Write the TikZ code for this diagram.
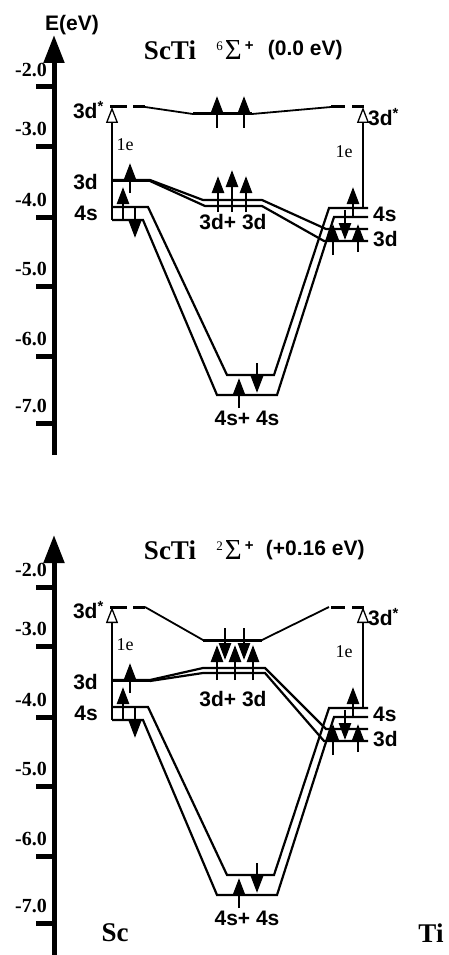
\documentclass[tikz,border=0pt]{standalone}
\usepackage{fontspec}
\setmainfont{Liberation Serif}
\setsansfont{Liberation Sans}
\usetikzlibrary{arrows.meta,positioning}
\newcommand{\stateterm}[1]{\raisebox{9pt}{\fontsize{13}{13}\selectfont #1}\hspace{2pt}{\fontsize{29}{29}\selectfont Σ}\hspace{3pt}\raisebox{9pt}{\fontsize{15}{15}\selectfont\sffamily\bfseries +}}

\begin{document}
\begin{tikzpicture}[x=1pt,y=-1pt, every node/.style={inner sep=0pt},
  axis/.style={line width=5pt,-{Triangle[length=28pt,width=20pt]}},
  axtick/.style={line width=5pt},
  val/.style={font=\fontsize{20}{20}\selectfont\bfseries,anchor=east},
  orb/.style={font=\fontsize{21}{21}\selectfont\sffamily\bfseries},
  level/.style={line width=3pt},
  band/.style={line width=2.2pt,line join=miter},
  corr/.style={line width=1.8pt},
  spin/.style={line width=2.6pt,-{Triangle[length=17pt,width=12pt]}},
  excite/.style={line width=1.3pt,-{Triangle[open,length=16pt,width=12pt]}},
  onee/.style={font=\fontsize{18}{18}\selectfont},
  title/.style={font=\fontsize{27}{27}\selectfont\bfseries},
  term/.style={font=\fontsize{26}{26}\selectfont},
  relen/.style={font=\fontsize{21}{21}\selectfont\sffamily\bfseries}]
\useasboundingbox (0,0) rectangle (448,955);

% parts shared by both states
\foreach \dy/\n in {0/a,500/b}{
\begin{scope}[shift={(0,\dy)}]
  \coordinate (bot\n) at (54,455); \coordinate (top\n) at (54,35);
  \draw[axis] (bot\n) -- (top\n);
  \foreach \t/\v in {87/-2.0,146/-3.0,217/-4.0,286/-5.0,356/-6.0,423/-7.0}
    {\draw[axtick] (36,\t) -- (54,\t); \node[val] (e\n\t) at (47,\t-17) {\v};}
  \draw[level] (110,107) -- (127,107) (133,107) -- (145,107);
  \draw[level] (331,107) -- (345,107) (352,107) -- (364,107);
  \node[orb,anchor=east] (scstar\n) at (104,110) {3d\textsuperscript{*}};
  \node[orb,anchor=west] (tistar\n) at (368,117) {3d\textsuperscript{*}};
  \node[orb,anchor=east] (sc3d\n) at (98,182) {3d};
  \node[orb,anchor=east] (sc4s\n) at (98,213) {4s};
  \node[orb,anchor=west] (ti4s\n) at (373,214) {4s};
  \node[orb,anchor=west] (ti3d\n) at (373,239) {3d};
  \draw[band] (112,207) -- (148,207) -- (227,375) -- (274,375) -- (329,208) -- (368,208);
  \draw[band] (112,220) -- (143,220) -- (217,395) -- (277,395) -- (334,217) -- (368,217);
  \draw[excite] (112,220) -- (112,107);
  \draw[excite] (363,208) -- (363,107);
  \node[onee] (sce\n) at (125,145) {1e};
  \node[onee] (tie\n) at (344,152) {1e};
  \node[orb] (ss\n) at (247,418) {4s+ 4s};
  \draw[spin] (130,193) -- (130,163);
  \draw[spin] (123,220) -- (123,187);
  \draw[spin] (135,208) -- (135,238);
  \draw[spin] (239,408) -- (239,378);
  \draw[spin] (257,363) -- (257,393);
  \draw[spin] (353,218) -- (353,187);
  \draw[spin] (333,255) -- (333,224);
  \draw[spin] (345,210) -- (345,240);
  \draw[spin] (358,252) -- (358,224);
\end{scope}}

% sextet
\node[orb] (ev) at (72,25) {E(eV)};
\node[title] (t1) at (170,50) {ScTi};
\node[term,right=20pt of t1] (s1) {\stateterm{6}};
\node[relen,right=14pt of s1] (d1) {(0.0 eV)};
\draw[band] (112,180) -- (150,180) -- (203,200) -- (262,200) -- (326,229) -- (368,229);
\draw[band] (150,181) -- (205,206) -- (262,206) -- (324,241) -- (368,241);
\draw[level] (112,180) -- (150,180);
\draw[corr] (145,107) -- (193,114) -- (252,114) -- (331,107);
\draw[level] (193,114) -- (252,114);
\draw[spin] (217,128) -- (217,96);
\draw[spin] (244,128) -- (244,96);
\draw[spin] (218,212) -- (218,176);
\draw[spin] (232,212) -- (232,170);
\draw[spin] (246,212) -- (246,176);
\node[orb] (dd1) at (233,222) {3d+ 3d};

% doublet
\node[title] (t2) at (170,550) {ScTi};
\node[term,right=20pt of t2] (s2) {\stateterm{2}};
\node[relen,right=12pt of s2] (d2) {(+0.16 eV)};
\draw[band] (112,680) -- (150,680) -- (203,668) -- (265,668) -- (326,729) -- (368,729);
\draw[band] (150,681) -- (203,673) -- (265,673) -- (324,741) -- (368,741);
\draw[level] (112,680) -- (150,680);
\draw[corr] (145,607) -- (203,640) -- (262,640) -- (329,607);
\draw[level] (203,640) -- (262,640);
\draw[spin] (225,628) -- (225,660);
\draw[spin] (244,628) -- (244,660);
\draw[spin] (217,680) -- (217,645);
\draw[spin] (235,680) -- (235,645);
\draw[spin] (253,680) -- (253,645);
\node[orb] (dd2) at (233,699) {3d+ 3d};
\node[title] (sc) at (115,933) {Sc};
\node[title] (ti) at (431,933) {Ti};
\end{tikzpicture}
\end{document}
